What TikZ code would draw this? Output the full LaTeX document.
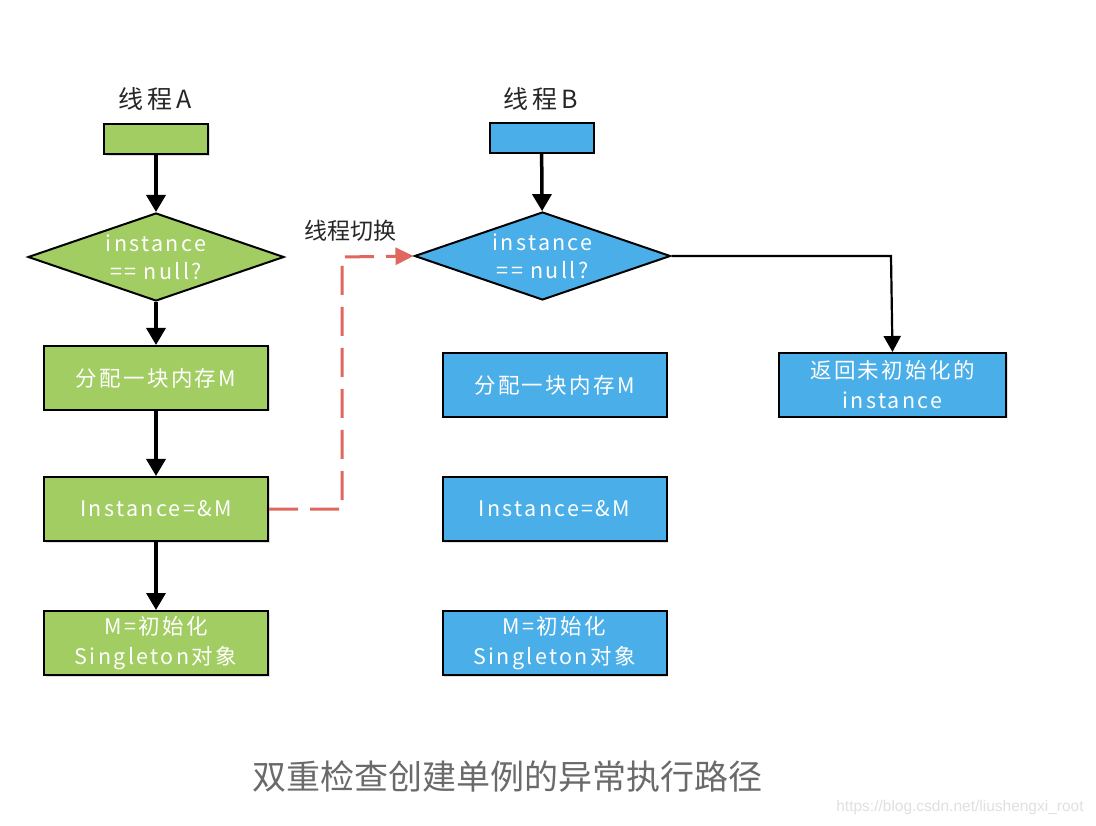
\documentclass[tikz,border=0pt]{standalone}
\usepackage{fontspec}
\setmainfont{Noto Sans CJK SC}
\newfontfamily\cjk{Noto Sans CJK SC}
\newfontfamily\cjksp[LetterSpace=11]{Noto Sans CJK SC}
\newfontfamily\cjklbl[LetterSpace=16]{Noto Sans CJK SC}
\newfontfamily\wm{Liberation Sans}
\usetikzlibrary{arrows.meta,shapes.geometric,shadows}
\definecolor{gA}{HTML}{A2CD62}
\definecolor{bB}{HTML}{4AAEE8}
\definecolor{redd}{HTML}{E0675E}
\definecolor{capg}{HTML}{6A6A6A}
\tikzset{
  box/.style={draw=black, line width=2pt, minimum width=224pt, minimum height=64pt, inner sep=0pt,
    text=white, font=\cjksp\fontsize{21.5}{30}\selectfont, align=center,
    drop shadow={shadow xshift=1.5pt, shadow yshift=-1.5pt, opacity=0.25}},
  gbox/.style={box, fill=gA},
  bbox/.style={box, fill=bB},
  topbox/.style={draw=black, line width=2pt, minimum width=104pt, minimum height=30pt, inner sep=0pt,
    drop shadow={shadow xshift=1.5pt, shadow yshift=-1.5pt, opacity=0.25}},
  dia/.style={diamond, draw=black, line width=2pt, aspect=2.93, minimum width=256pt, minimum height=88pt,
    inner sep=0pt, text=white, font=\cjksp\fontsize{21.5}{28}\selectfont, align=center},
  arr/.style={-{Triangle[length=17pt,width=19pt]}, line width=3.5pt, black},
  thin arr/.style={-{Triangle[length=16pt,width=17pt]}, line width=2.2pt, black},
  switch/.style={-{Triangle[length=18pt,width=17pt]}, line width=3pt, redd, dash pattern=on 29pt off 12pt},
  lbl/.style={font=\cjklbl\fontsize{25}{27}\selectfont, text=black!85},
}
\begin{document}
\begin{tikzpicture}[x=1pt,y=-1pt]
\useasboundingbox (0,0) rectangle (1096,826);
\fill[white] (0,0) rectangle (1096,826);

% Thread A
\node[lbl] (la) at (155,99) {线程A};
\node[topbox, fill=gA] (sa) at (156,139.5) {};
\node[dia, fill=gA] (da) at (156,257) {instance\\== null?};
\node[gbox] (a1) at (156,378) {分配一块内存M};
\node[gbox] (a2) at (156,509) {Instance=\&M};
\node[gbox] (a3) at (156,643) {M=初始化\\Singleton对象};

\draw[arr] (sa) -- (da);
\draw[arr] (da) -- (a1);
\draw[arr] (a1) -- (a2);
\draw[arr] (a2) -- (a3);

% Thread B
\node[lbl] (lb) at (541,99) {线程B};
\node[topbox, fill=bB] (sb) at (541.5,138) {};
\node[dia, fill=bB] (db) at (542.5,256) {instance\\== null?};
\node[bbox] (b1) at (554.5,385) {分配一块内存M};
\node[bbox] (b2) at (554.5,509) {Instance=\&M};
\node[bbox] (b3) at (554.5,643) {M=初始化\\Singleton对象};
\node[bbox, minimum width=227pt] (b4) at (892.5,385) {返回未初始化的\\instance};

\draw[arr] (sb) -- (db);
\coordinate (cr) at (891,256);
\draw[thin arr] (db.east) -- (cr) -- (b4.north);

% switch
\coordinate (s1) at (342,509);
\coordinate (s2) at (342,257);
\draw[switch] (a2.east) -- (s1) -- (s2) -- (db.west);
\node[font=\cjk\fontsize{23}{25}\selectfont, text=black!85] (ls) at (350,231) {线程切换};

% caption
\node[font=\cjk\fontsize{34}{36}\selectfont, text=capg] (cap) at (507,777) {双重检查创建单例的异常执行路径};
\node[font=\wm\fontsize{15.5}{17}\selectfont, text=black!12] (wm) at (960,807) {https://blog.csdn.net/liushengxi\_root};
\end{tikzpicture}
\end{document}
